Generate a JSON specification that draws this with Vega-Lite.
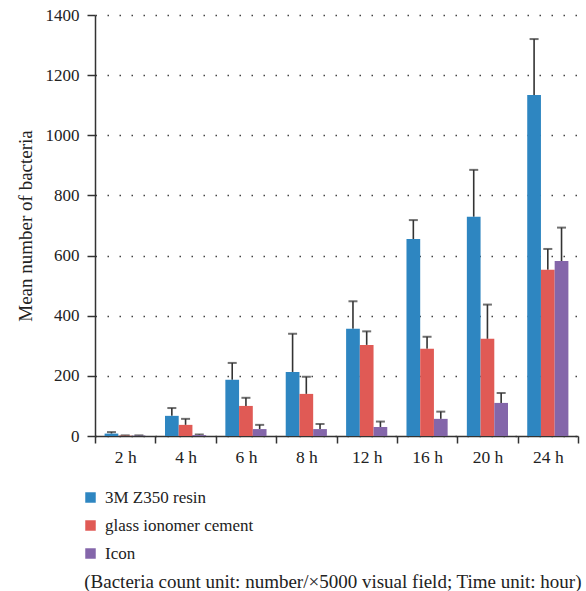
{
  "$schema": "https://vega.github.io/schema/vega-lite/v6.json",
  "width": 483,
  "height": 421,
  "autosize": {"type": "none"},
  "padding": {"left": 95, "top": 15, "right": 8, "bottom": 155},
  "background": "white",
  "config": {
    "view": {"stroke": null},
    "font": "Liberation Serif",
    "axis": {"labelFont": "Liberation Serif", "titleFont": "Liberation Serif", "labelColor": "#222", "titleColor": "#222"},
    "legend": {"labelFont": "Liberation Serif", "titleFont": "Liberation Serif"}
  },
  "data": {
    "values": [
      {"time": "2 h", "material": "3M Z350 resin", "mean": 8, "upper": 13},
      {"time": "2 h", "material": "glass ionomer cement", "mean": 1, "upper": 2},
      {"time": "2 h", "material": "Icon", "mean": 1, "upper": 2},
      {"time": "4 h", "material": "3M Z350 resin", "mean": 67, "upper": 93},
      {"time": "4 h", "material": "glass ionomer cement", "mean": 37, "upper": 57},
      {"time": "4 h", "material": "Icon", "mean": 3, "upper": 5},
      {"time": "6 h", "material": "3M Z350 resin", "mean": 187, "upper": 243},
      {"time": "6 h", "material": "glass ionomer cement", "mean": 100, "upper": 127},
      {"time": "6 h", "material": "Icon", "mean": 23, "upper": 37},
      {"time": "8 h", "material": "3M Z350 resin", "mean": 213, "upper": 340},
      {"time": "8 h", "material": "glass ionomer cement", "mean": 140, "upper": 197},
      {"time": "8 h", "material": "Icon", "mean": 23, "upper": 40},
      {"time": "12 h", "material": "3M Z350 resin", "mean": 357, "upper": 448},
      {"time": "12 h", "material": "glass ionomer cement", "mean": 303, "upper": 348},
      {"time": "12 h", "material": "Icon", "mean": 30, "upper": 48},
      {"time": "16 h", "material": "3M Z350 resin", "mean": 655, "upper": 718},
      {"time": "16 h", "material": "glass ionomer cement", "mean": 290, "upper": 330},
      {"time": "16 h", "material": "Icon", "mean": 57, "upper": 81},
      {"time": "20 h", "material": "3M Z350 resin", "mean": 729, "upper": 885},
      {"time": "20 h", "material": "glass ionomer cement", "mean": 323, "upper": 437},
      {"time": "20 h", "material": "Icon", "mean": 110, "upper": 143},
      {"time": "24 h", "material": "3M Z350 resin", "mean": 1134, "upper": 1320},
      {"time": "24 h", "material": "glass ionomer cement", "mean": 553, "upper": 622},
      {"time": "24 h", "material": "Icon", "mean": 582, "upper": 693}
    ]
  },
  "encoding": {
    "x": {
      "field": "time", "type": "nominal",
      "sort": ["2 h", "4 h", "6 h", "8 h", "12 h", "16 h", "20 h", "24 h"],
      "scale": {"paddingInner": 0, "paddingOuter": 0},
      "axis": {
        "title": "(Bacteria count unit: number/×5000 visual field; Time unit: hour)",
        "titleFontSize": 19, "titleFontWeight": "normal",
        "titleAnchor": "end", "titleAlign": "right", "titleX": 486, "titleY": 145, "titleBaseline": "middle",
        "labelAngle": 0, "labelFontSize": 17.5, "labelPadding": 5,
        "tickBand": "extent", "tickSize": 7, "tickColor": "#333", "tickWidth": 1.5,
        "domainColor": "#333", "domainWidth": 1.5
      }
    },
    "xOffset": {
      "field": "material", "type": "nominal",
      "sort": ["3M Z350 resin", "glass ionomer cement", "Icon"],
      "scale": {"paddingInner": 0, "paddingOuter": 0.7}
    }
  },
  "layer": [
    {
      "mark": {"type": "rule", "color": "#333", "strokeWidth": 1.6},
      "encoding": {
        "y": {"field": "mean", "type": "quantitative"},
        "y2": {"field": "upper"}
      }
    },
    {
      "mark": {"type": "tick", "orient": "horizontal", "color": "#333", "size": 9, "thickness": 2},
      "encoding": {
        "y": {"field": "upper", "type": "quantitative"}
      }
    },
    {
      "mark": {"type": "bar"},
      "encoding": {
        "y": {
          "field": "mean", "type": "quantitative",
          "scale": {"domain": [0, 1400], "nice": false},
          "axis": {
            "title": "Mean number of bacteria", "titleFontSize": 19, "titleFontWeight": "normal", "titlePadding": 10,
            "values": [0, 200, 400, 600, 800, 1000, 1200, 1400], "format": "d",
            "labelFontSize": 17, "labelPadding": 8,
            "tickSize": 8, "tickColor": "#333", "tickWidth": 1.5,
            "domainColor": "#333", "domainWidth": 1.5,
            "grid": true, "gridColor": "#444", "gridDash": [1.5, 10.5], "gridWidth": 1.5
          }
        },
        "color": {
          "field": "material", "type": "nominal",
          "sort": ["3M Z350 resin", "glass ionomer cement", "Icon"],
          "scale": {"domain": ["3M Z350 resin", "glass ionomer cement", "Icon"], "range": ["#2e86c1", "#e05a55", "#8466aa"]},
          "legend": {
            "title": null, "orient": "none", "legendX": -13, "legendY": 474, "direction": "vertical",
            "symbolType": "square", "symbolSize": 110, "symbolStrokeWidth": 0,
            "labelFontSize": 17, "labelColor": "#222", "labelOffset": 6, "rowPadding": 10
          }
        }
      }
    }
  ]
}
